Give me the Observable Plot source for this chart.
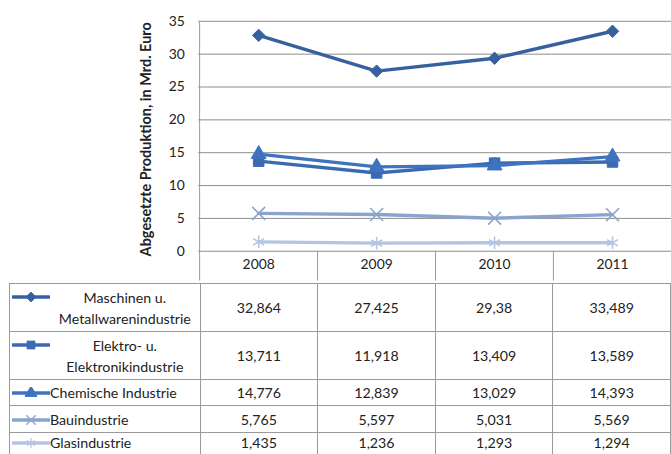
<!DOCTYPE html>
<html>
<head>
<meta charset="utf-8">
<script src="https://cdn.jsdelivr.net/npm/d3@7"></script>
<script src="https://cdn.jsdelivr.net/npm/@observablehq/plot@0.6"></script>
<style>
  html, body { margin: 0; padding: 0; background: #fff; overflow: hidden; }
  #wrap { position: relative; width: 671px; height: 454px; overflow: hidden; font-family: Lato, "Open Sans", sans-serif; color: #222; }
  #chart svg { display: block; }
  #chart g[aria-label="y-axis label"] text { font-weight: bold; font-size: 14.6px; }
  table { position: absolute; left: 9px; top: 283px; border-collapse: collapse; table-layout: fixed; font-size: 14.2px; }
  td { border: 1px solid #9a9a9a; padding: 0; text-align: center; vertical-align: middle; }
  tr.last td { vertical-align: top; padding-top: 2px; line-height: 16px; }
  td.name { position: relative; text-align: left; }
  td.name svg { position: absolute; left: 2px; }
  td.name .txt { margin-left: 40px; line-height: 21px; }
  tr.last td.name .txt { line-height: 16px; }
  td.name .txt.two { text-align: center; }
</style>
</head>
<body>
<div id="wrap">
  <div id="chart"></div>
</div>
<script>
// Abgesetzte Produktion je Branche, Mrd. Euro
const years = ["2008", "2009", "2010", "2011"];
const seriesNames = [
  "Maschinen u. Metallwarenindustrie",
  "Elektro- u. Elektronikindustrie",
  "Chemische Industrie",
  "Bauindustrie",
  "Glasindustrie"
];
const seriesLines = [
  ["Maschinen u.", "Metallwarenindustrie"],
  ["Elektro- u.", "Elektronikindustrie"],
  ["Chemische Industrie"],
  ["Bauindustrie"],
  ["Glasindustrie"]
];
const maschinen = [32.864, 27.425, 29.38, 33.489];
const elektro   = [13.711, 11.918, 13.409, 13.589];
const chemie    = [14.776, 12.839, 13.029, 14.393];
const bau       = [5.765, 5.597, 5.031, 5.569];
const glas      = [1.435, 1.236, 1.293, 1.294];
const yTicks = [0, 5, 10, 15, 20, 25, 30, 35];
const yLabel = "Abgesetzte Produktion, in Mrd. Euro";

const seriesValues = [maschinen, elektro, chemie, bau, glas];
const colors  = ["#36609e", "#3a6bb2", "#3f73bf", "#8aa4d0", "#b4c5e3"];
const symbols = ["diamond2", "square", "triangle", "times", "asterisk"];
const radii   = [5.6, 6.0, 5.6, 6.0, 6.0];
const d3Symbols = {diamond2: d3.symbolDiamond2, square: d3.symbolSquare, triangle: d3.symbolTriangle, times: d3.symbolTimes, asterisk: d3.symbolAsterisk};

const rows = [];
seriesNames.forEach((name, s) => {
  years.forEach((year, i) => rows.push({series: name, s, year, value: seriesValues[s][i]}));
});

const W = 677, H = 283, mL = 200, mR = 0, mT = 21, mB = 30;
const step = (W - mL - mR) / years.length;

const marks = [
  Plot.gridY(yTicks, {stroke: "#8c8c8c", strokeOpacity: 1}),
  // y axis line, continued down as the first divider of the year row
  Plot.ruleX([years[0]], {x: d => d, dx: -step / 2, y1: 35, y2: 0, insetBottom: -mB, stroke: "#9a9a9a"}),
  // dividers between the year cells below the axis
  Plot.ruleX(years.slice(1), {x: d => d, dx: -step / 2, y1: 0, y2: 0, insetBottom: -mB, stroke: "#9a9a9a"}),
  Plot.axisY(yTicks, {tickSize: 0, tickPadding: 14, fontSize: 14, label: yLabel, labelAnchor: "center", labelArrow: false, labelOffset: 59}),
  Plot.axisX({tickSize: 0, tickPadding: 8, fontSize: 14, label: null})
];
seriesNames.forEach((name, s) => {
  const data = rows.filter(r => r.s === s);
  marks.push(Plot.line(data, {x: "year", y: "value", stroke: colors[s], strokeWidth: 3.4}));
  const filled = s < 3;
  marks.push(Plot.dot(data, {
    x: "year", y: "value", symbol: () => symbols[s], r: radii[s],
    fill: filled ? colors[s] : "none", stroke: colors[s], strokeWidth: filled ? 1 : 1.6
  }));
});

const chart = Plot.plot({
  width: W, height: H,
  marginLeft: mL, marginRight: mR, marginTop: mT, marginBottom: mB,
  style: {fontFamily: "Lato, 'Open Sans', sans-serif", fontSize: "14px", color: "#222", overflow: "visible"},
  x: {type: "band", domain: years, padding: 0, label: null},
  y: {domain: [0, 35], label: yLabel},
  symbol: {type: "identity"},
  marks
});
// nudge the rotated axis title slightly downward
const lab = d3.select(chart).select('g[aria-label="y-axis label"]');
lab.attr("transform", (lab.attr("transform") || "") + " translate(0,3)");
document.getElementById("chart").appendChild(chart);

// data table with legend keys
const fmt = v => String(v).replace(".", ",");
const rowHeights = [48, 48, 26, 27, 22];
const table = d3.select("#wrap").append("table");
const cg = table.append("colgroup");
cg.append("col").style("width", (mL - 9) + "px");
years.forEach(() => cg.append("col").style("width", step + "px"));
seriesNames.forEach((name, s) => {
  const isLast = s === seriesNames.length - 1;
  const tr = table.append("tr").attr("class", isLast ? "last" : null).style("height", rowHeights[s] + "px");
  const td = tr.append("td").attr("class", "name");
  const two = seriesLines[s].length > 1;
  const key = td.append("svg").attr("width", 38).attr("height", 12)
    .style("top", two ? "7px" : isLast ? "4px" : ((rowHeights[s] - 12) / 2) + "px");
  key.append("line").attr("x1", 1).attr("x2", 37).attr("y1", 6).attr("y2", 6)
    .attr("stroke", colors[s]).attr("stroke-width", 3.5).attr("stroke-linecap", "round");
  const filled = s < 3;
  key.append("path").attr("transform", "translate(19,6)")
    .attr("d", d3.symbol(d3Symbols[symbols[s]], Math.PI * 4.4 * 4.4)())
    .attr("fill", filled ? colors[s] : "none").attr("stroke", colors[s]).attr("stroke-width", filled ? 1 : 1.3);
  const txt = td.append("div").attr("class", "txt" + (two ? " two" : ""));
  seriesLines[s].forEach((line, k) => {
    if (k) txt.append("br");
    txt.append("span").text(line);
  });
  seriesValues[s].forEach(v => tr.append("td").text(fmt(v)));
});
</script>
</body>
</html>
